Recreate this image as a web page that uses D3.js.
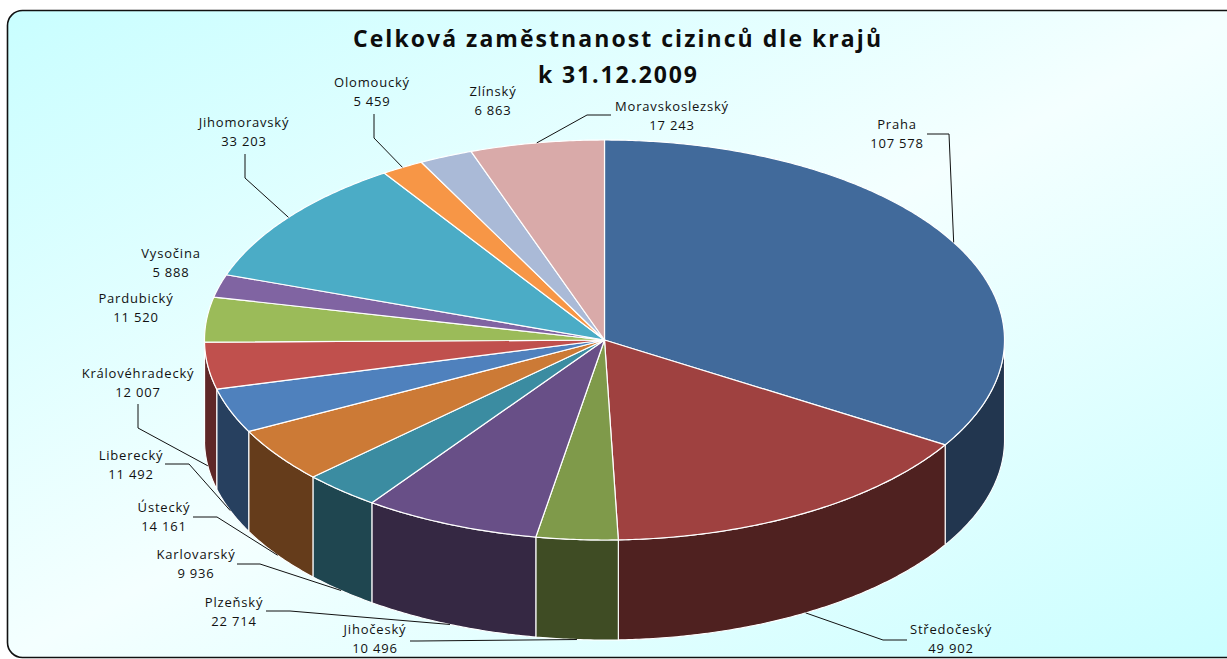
<!DOCTYPE html>
<html><head><meta charset="utf-8">
<script src="https://cdn.jsdelivr.net/npm/d3@7"></script>
<style>html,body{margin:0;padding:0;background:#fff;overflow:hidden}</style>
</head><body>
<svg id="chart" width="1227" height="659"></svg>
<script>
// ---- data ----
const regions = ["Praha","Středočeský","Jihočeský","Plzeňský","Karlovarský","Ústecký","Liberecký","Královéhradecký","Pardubický","Vysočina","Jihomoravský","Olomoucký","Zlínský","Moravskoslezský"];
const employed = [107578,49902,10496,22714,9936,14161,11492,12007,11520,5888,33203,5459,6863,17243];
const titleLines = ["Celková zaměstnanost cizinců dle krajů","k 31.12.2009"];

// ---- styles ----
const topColors = ["#416A9B","#9F4140","#7F9A4A","#684F87","#3B8CA1","#CC7A36","#4F81BD","#C0504D","#9BBB59","#8064A2","#4BACC6","#F79646","#AABAD7","#D9AAA9"];
const sideColors = ["#22364F","#4F2120","#3F4C24","#352843","#1F4650","#653C1B","#27405F","#5F2727","#4D5D2C","#403251","#255663","#7B4B23","#555D6B","#6C5554"];

// ---- layout of labels: text centre x, name baseline y, leader knee points ----
const labelLayout = [
  {x:897, y:129, knee:[[927,134],[949,134]]},
  {x:951, y:634, knee:[[907,640],[883,640]]},
  {x:375, y:634, knee:[[410,641],[418,641]]},
  {x:234, y:607, knee:[[266,611],[290,611]]},
  {x:196, y:559, knee:[[237,564],[260,564]]},
  {x:164, y:512, knee:[[193,517],[217,517]]},
  {x:131, y:460, knee:[[165,464],[189,464]]},
  {x:138, y:378, knee:[[138,404],[138,428]]},
  {x:136, y:303, knee:null},
  {x:171, y:258, knee:null},
  {x:244, y:127, knee:[[245,154],[245,178]]},
  {x:372, y:87,  knee:[[374,114],[374,138]]},
  {x:493, y:96,  knee:null},
  {x:672, y:111, knee:[[611,115],[587,115]]}
];

const W = 1227, H = 659;
const cx = 604.5, cy = 340, rx = 400, ry = 200, depth = 100;

const svg = d3.select("#chart");
const defs = svg.append("defs");
const grad = defs.append("linearGradient").attr("id","bg")
  .attr("x1","0").attr("y1","0").attr("x2","1").attr("y2","1");
grad.append("stop").attr("offset","0%").attr("stop-color","#C9FEFF");
grad.append("stop").attr("offset","50%").attr("stop-color","#F4FFFF");
grad.append("stop").attr("offset","100%").attr("stop-color","#C9FEFF");

svg.append("rect").attr("x",7.5).attr("y",10.5).attr("width",1240).attr("height",647)
  .attr("rx",15).attr("ry",15)
  .attr("fill","url(#bg)").attr("stroke","#111").attr("stroke-width",1.6);

// title
const title = svg.append("g").attr("font-family","'Open Sans', 'Liberation Sans', sans-serif")
  .attr("font-weight","bold").attr("font-size","23px").attr("fill","#0d0d0d").attr("text-anchor","middle");
title.append("text").attr("x",617).attr("y",47).attr("textLength",528).attr("lengthAdjust","spacing").text(titleLines[0]);
title.append("text").attr("x",617.5).attr("y",83).attr("textLength",159).attr("lengthAdjust","spacing").text(titleLines[1]);

// pie geometry
const data = regions.map((r,i)=>({name:r, value:employed[i], i}));
const pie = d3.pie().sort(null).value(d=>d.value);
const arcs = pie(data);

const px = d3.scaleLinear().domain([-1,1]).range([cx-rx, cx+rx]);
const py = d3.scaleLinear().domain([-1,1]).range([cy-ry, cy+ry]);
const pt = (a, dy=0) => [px(Math.sin(a)), py(-Math.cos(a)) + dy];
const line = d3.line();

function arcPoints(a0, a1, dy) {
  const n = Math.max(2, Math.ceil((a1-a0)/(Math.PI/360)));
  const pts = [];
  for (let k=0;k<=n;k++) pts.push(pt(a0 + (a1-a0)*k/n, dy));
  return pts;
}

// walls (front half only)
const gWalls = svg.append("g");
arcs.forEach(d=>{
  const a0 = Math.max(d.startAngle, Math.PI/2), a1 = Math.min(d.endAngle, 3*Math.PI/2);
  if (a0 >= a1) return;
  const pts = arcPoints(a0,a1,0).concat(arcPoints(a0,a1,depth).reverse());
  gWalls.append("path").attr("d", line(pts)+"Z")
    .attr("fill", sideColors[d.data.i]).attr("stroke","#fff").attr("stroke-width",1.1).attr("stroke-linejoin","round");
});

// top faces
const gTop = svg.append("g");
arcs.forEach(d=>{
  const pts = [[cx,cy]].concat(arcPoints(d.startAngle, d.endAngle, 0));
  gTop.append("path").attr("d", line(pts)+"Z")
    .attr("fill", topColors[d.data.i]).attr("stroke","#fff").attr("stroke-width",1.2).attr("stroke-linejoin","round");
});

// labels
const fmt = d3.formatLocale({decimal:",", thousands:" ", grouping:[3], currency:["",""]}).format(",d");
const gLab = svg.append("g").attr("font-family","'Open Sans', 'Liberation Sans', sans-serif")
  .attr("font-size","13px").attr("fill","#111").attr("text-anchor","middle").attr("letter-spacing","0.8px");
arcs.forEach(d=>{
  const L = labelLayout[d.data.i];
  if (L.knee) {
    const mid = (d.startAngle + d.endAngle)/2;
    const front = Math.cos(mid) < 0;
    const end = pt(mid, front ? depth : 0);
    svg.append("path").attr("d", line(L.knee.concat([end])))
      .attr("fill","none").attr("stroke","#111").attr("stroke-width",1);
  }
  gLab.append("text").attr("x",L.x).attr("y",L.y).text(d.data.name);
  gLab.append("text").attr("x",L.x).attr("y",L.y+19).text(fmt(d.data.value));
});
gLab.raise();
</script>
</body></html>
